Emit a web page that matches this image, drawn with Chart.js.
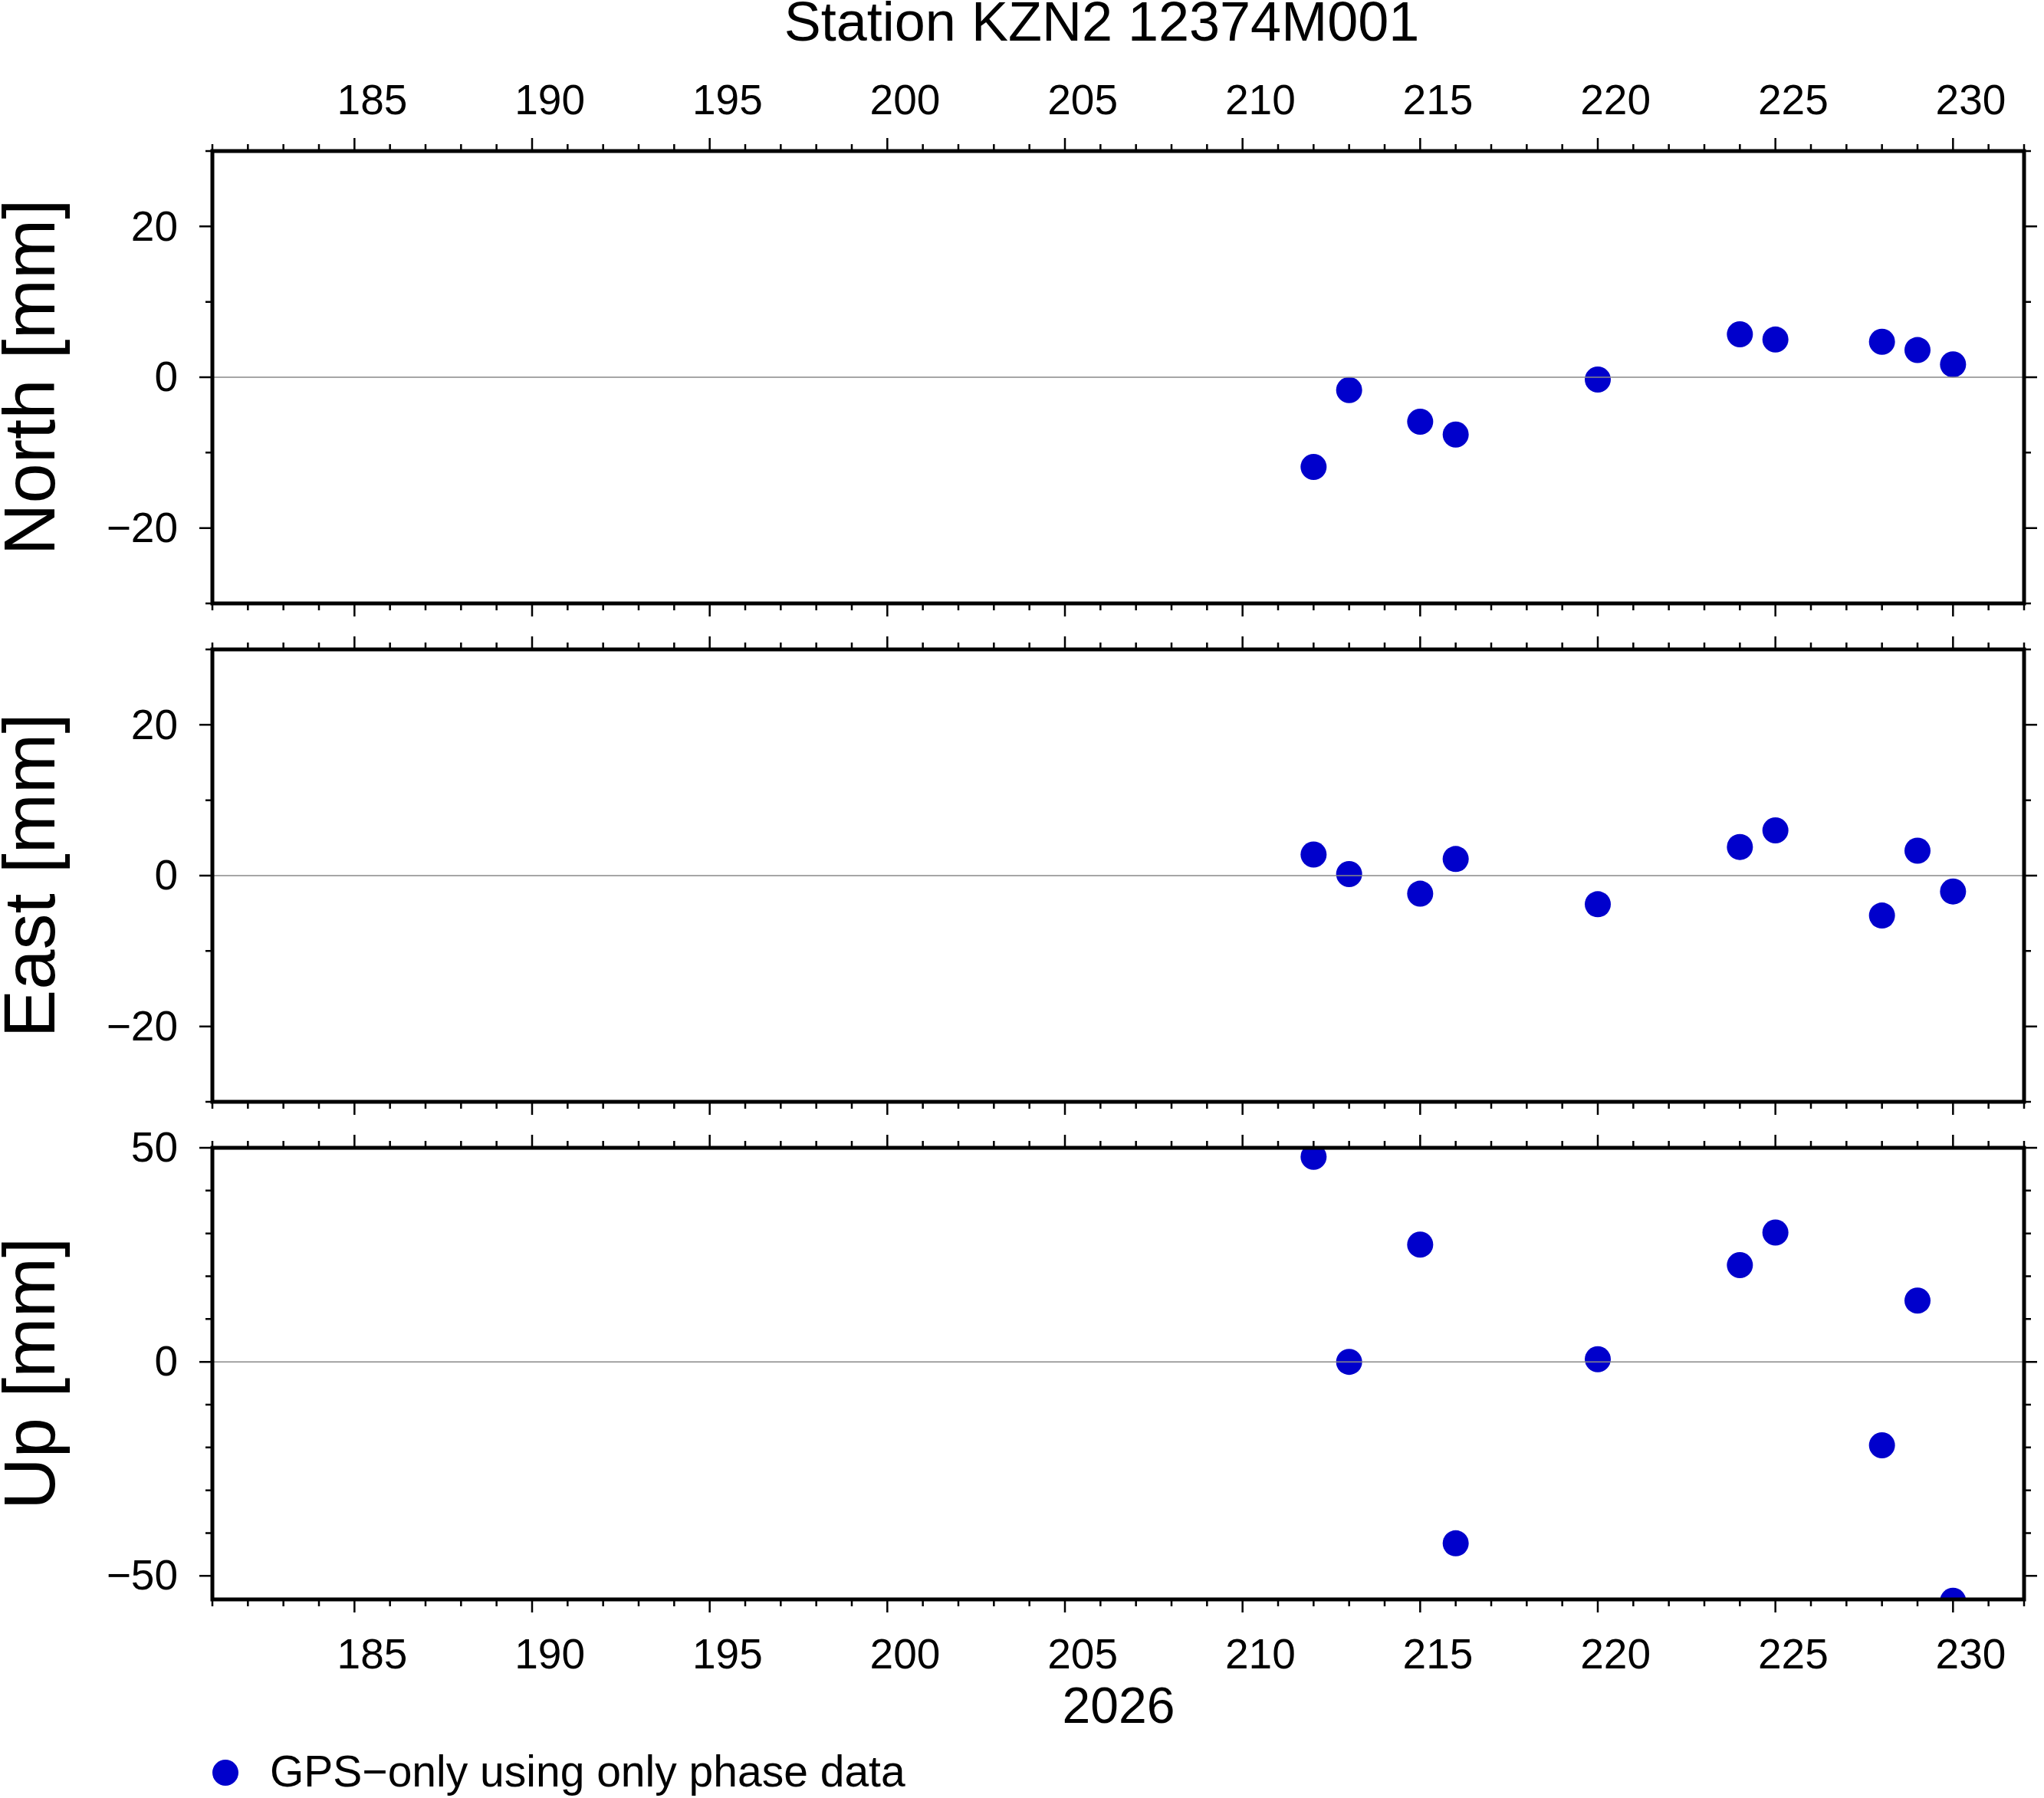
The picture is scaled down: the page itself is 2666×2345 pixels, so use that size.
<!DOCTYPE html>
<html>
<head>
<meta charset="utf-8">
<script src="https://cdn.jsdelivr.net/npm/chart.js@4"></script>
<style>
  body { margin: 0; background: #fff; }
  canvas { position: absolute; left: 0; top: 0; }
</style>
</head>
<body>
<canvas id="cN" width="2666" height="2345"></canvas>
<canvas id="cE" width="2666" height="2345"></canvas>
<canvas id="cU" width="2666" height="2345"></canvas>
<script>
// Data (day of year 2026)
const days = [212, 213, 215, 216, 220, 224, 225, 228, 229, 230];
const northMm = [-11.9, -1.7, -5.9, -7.6, -0.3, 5.7, 5.0, 4.7, 3.6, 1.7];
const eastMm = [2.8, 0.2, -2.4, 2.2, -3.8, 3.8, 6.0, -5.3, 3.3, -2.1];
const upMm = [47.9, 0.0, 27.4, -42.4, 0.6, 22.6, 30.2, -19.5, 14.3, -55.8];
const xTickLabels = [185, 190, 195, 200, 205, 210, 215, 220, 225, 230];
const xMin = 181, xMax = 232;

const FONT = '"Liberation Sans", Arial, sans-serif';
const W = 2666, H = 2345;
const LEFT = 277, RIGHT = 2640;

// Draws GMT-style frame, ticks, labels
const framePlugin = {
    id: 'frame',
    afterDatasetsDraw(chart, args, o) {
        const ctx = chart.ctx;
        const a = chart.chartArea;
        const xs = chart.scales.x, ys = chart.scales.y;
        ctx.save();
        // zero line
        ctx.strokeStyle = '#888';
        ctx.lineWidth = 1.5;
        const y0 = ys.getPixelForValue(0);
        ctx.beginPath(); ctx.moveTo(a.left, y0); ctx.lineTo(a.right, y0); ctx.stroke();
        // frame
        ctx.strokeStyle = '#000';
        ctx.lineWidth = 5;
        ctx.strokeRect(a.left, a.top, a.right - a.left, a.bottom - a.top);
        ctx.lineWidth = 2.5;
        // x ticks
        for (let d = xMin; d <= xMax; d++) {
            const px = xs.getPixelForValue(d);
            const len = d % 5 === 0 ? 17 : 9;
            ctx.beginPath();
            ctx.moveTo(px, a.top); ctx.lineTo(px, a.top - len);
            ctx.moveTo(px, a.bottom); ctx.lineTo(px, a.bottom + len);
            ctx.stroke();
        }
        // y ticks
        for (let v = Math.ceil(ys.min / o.minor) * o.minor; v <= ys.max; v += o.minor) {
            const py = ys.getPixelForValue(v);
            const len = v % o.major === 0 ? 17 : 9;
            ctx.beginPath();
            ctx.moveTo(a.left, py); ctx.lineTo(a.left - len, py);
            ctx.moveTo(a.right, py); ctx.lineTo(a.right + len, py);
            ctx.stroke();
        }
        ctx.fillStyle = '#000';
        ctx.font = '55px ' + FONT;
        ctx.textAlign = 'right';
        ctx.textBaseline = 'middle';
        for (let v = Math.ceil(ys.min / o.major) * o.major; v <= ys.max; v += o.major) {
            const s = v < 0 ? '\u2212' + Math.abs(v) : String(v);
            ctx.fillText(s, a.left - 45, ys.getPixelForValue(v) + 3);
        }
        ctx.textAlign = 'center';
        if (o.topLabels || o.bottomLabels) {
            xTickLabels.forEach(d => {
                const px = xs.getPixelForValue(d + 0.5);
                if (o.topLabels) ctx.fillText(String(d), px, a.top - 63);
                if (o.bottomLabels) ctx.fillText(String(d), px, a.bottom + 75);
            });
        }
        // y title
        ctx.font = '94px ' + FONT;
        ctx.translate(45, (a.top + a.bottom) / 2);
        ctx.rotate(-Math.PI / 2);
        ctx.fillText(o.title, 0, 0);
        ctx.restore();
    }
};

function makePanel(id, values, top, bottom, yMin, yMax, opts) {
    return new Chart(document.getElementById(id), {
        type: 'scatter',
        data: {
            datasets: [{
                data: days.map((d, i) => ({ x: d, y: values[i] })),
                backgroundColor: 'rgb(0,0,204)',
                borderWidth: 0,
                pointRadius: 17
            }]
        },
        options: {
            responsive: false,
            animation: false,
            devicePixelRatio: 1,
            layout: { padding: { left: LEFT, right: W - RIGHT, top: top, bottom: H - bottom } },
            plugins: { legend: { display: false }, tooltip: { enabled: false }, frame: opts },
            scales: {
                x: { type: 'linear', min: xMin, max: xMax, display: false },
                y: { type: 'linear', min: yMin, max: yMax, display: false }
            }
        },
        plugins: [framePlugin]
    });
}

makePanel('cN', northMm, 197, 787, -30, 30, { title: 'North [mm]', major: 20, minor: 10, topLabels: true });
makePanel('cE', eastMm, 847, 1437, -30, 30, { title: 'East [mm]', major: 20, minor: 10 });
const upChart = makePanel('cU', upMm, 1497, 2086, -55.5, 50, { title: 'Up [mm]', major: 50, minor: 10, bottomLabels: true });

// Title, year label and legend
const ctx = upChart.ctx;
ctx.save();
ctx.fillStyle = '#000';
ctx.textAlign = 'center';
ctx.textBaseline = 'middle';
ctx.font = '72px ' + FONT;
ctx.fillText('Station KZN2 12374M001', 1437, 33);
ctx.font = '66px ' + FONT;
ctx.fillText('2026', 1459, 2229);
ctx.fillStyle = 'rgb(0,0,204)';
ctx.beginPath(); ctx.arc(294, 2312, 17, 0, Math.PI * 2); ctx.fill();
ctx.fillStyle = '#000';
ctx.textAlign = 'left';
ctx.font = '57px ' + FONT;
ctx.fillText('GPS\u2212only using only phase data', 352, 2314);
ctx.restore();
</script>
</body>
</html>
